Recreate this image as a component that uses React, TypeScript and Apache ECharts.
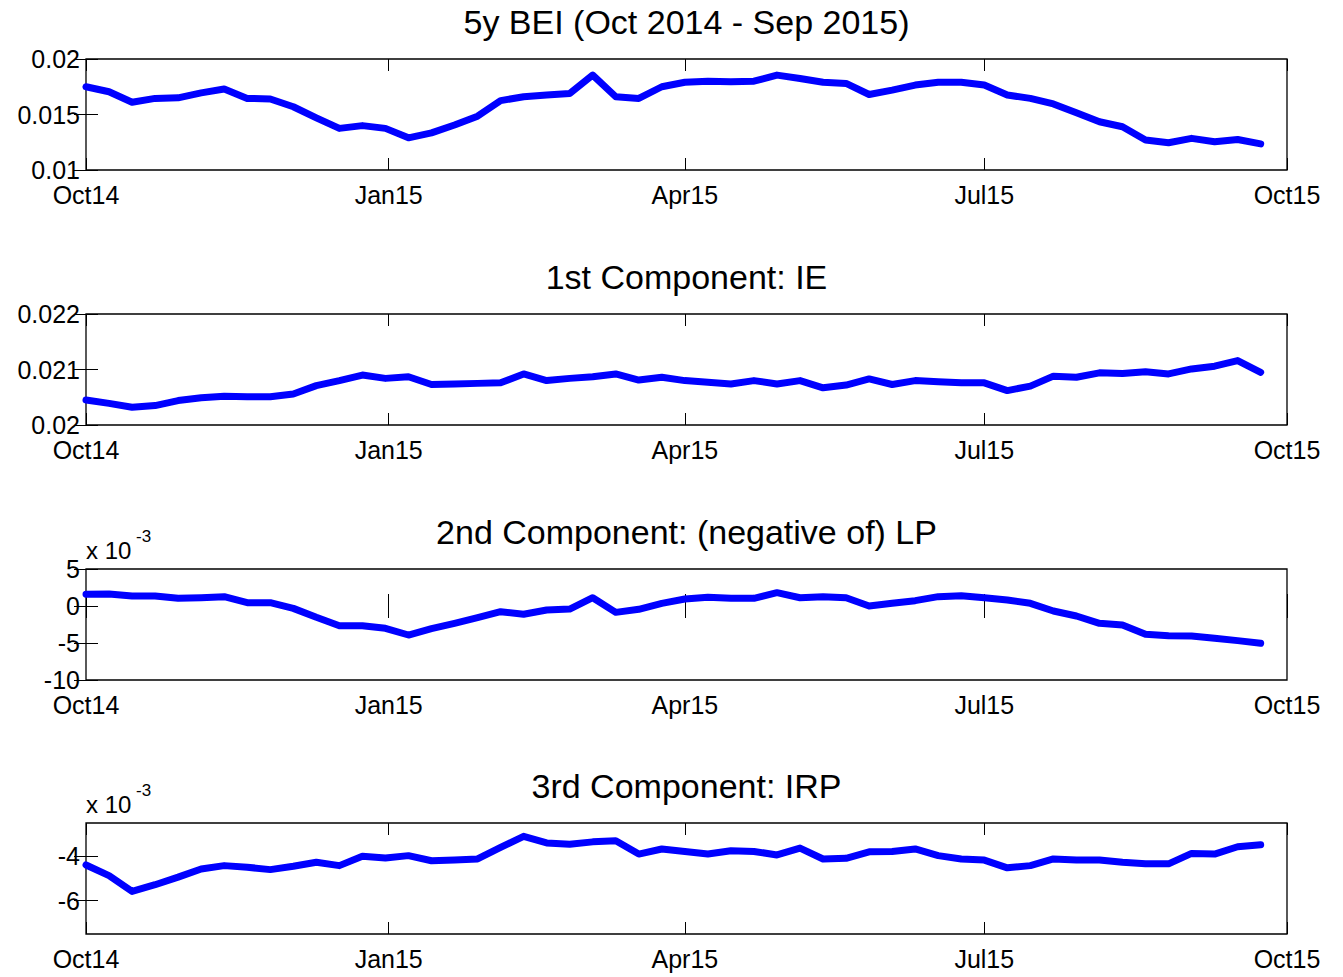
import React, { useEffect, useRef } from "react";
import * as echarts from "echarts";

// Days since 1 Oct 2014 for the weekly observations
const weekDays: number[] = Array.from({ length: 52 }, (_, i) => i * 7);

const tickDays = [0, 92, 182, 273, 365];
const tickLabels = ["Oct14", "Jan15", "Apr15", "Jul15", "Oct15"];

const bei = [
  0.0175, 0.01705, 0.0161, 0.01645, 0.0165, 0.01695, 0.0173, 0.01645, 0.0164, 0.0157,
  0.0147, 0.01375, 0.014, 0.01375, 0.0129, 0.01335, 0.01405, 0.01485, 0.01625, 0.0166,
  0.01675, 0.0169, 0.01855, 0.0166, 0.01645, 0.0175, 0.0179, 0.018, 0.01795, 0.018,
  0.01855, 0.01825, 0.0179, 0.0178, 0.0168, 0.0172, 0.01765, 0.0179, 0.0179, 0.01765,
  0.01675, 0.01645, 0.01595, 0.01515, 0.01435, 0.0139, 0.0127, 0.01245, 0.01285, 0.01255,
  0.01275, 0.01235,
];

const ie = [
  0.02045, 0.02039, 0.02032, 0.02035, 0.02044, 0.02049, 0.02052, 0.02051, 0.02051, 0.02056,
  0.02071, 0.0208, 0.0209, 0.02084, 0.02087, 0.02073, 0.02074, 0.02075, 0.02076, 0.02092,
  0.0208, 0.02084, 0.02087, 0.02092, 0.02081, 0.02086, 0.0208, 0.02077, 0.02074, 0.0208,
  0.02074, 0.0208, 0.02067, 0.02072, 0.02083, 0.02073, 0.0208, 0.02078, 0.02076, 0.02076,
  0.02062, 0.0207, 0.02088, 0.02086, 0.02094, 0.02093, 0.02096, 0.02092, 0.02101, 0.02106,
  0.02116, 0.02095,
];

// x 10^-3
const lp = [
  1.58, 1.62, 1.35, 1.35, 1.04, 1.12, 1.26, 0.45, 0.45, -0.32,
  -1.53, -2.66, -2.66, -3.01, -3.92, -3.05, -2.34, -1.58, -0.77, -1.12,
  -0.54, -0.41, 1.12, -0.86, -0.45, 0.36, 0.95, 1.17, 1.04, 1.04,
  1.8, 1.12, 1.26, 1.12, 0.0, 0.36, 0.72, 1.26, 1.4, 1.12,
  0.81, 0.36, -0.68, -1.35, -2.34, -2.57, -3.83, -4.01, -4.05, -4.37,
  -4.68, -5.04,
];

// x 10^-3
const irp = [
  -4.39, -4.87, -5.58, -5.28, -4.94, -4.57, -4.42, -4.49, -4.6, -4.45,
  -4.27, -4.42, -4.0, -4.08, -3.97, -4.2, -4.17, -4.12, -3.6, -3.1,
  -3.4, -3.46, -3.35, -3.3, -3.9, -3.67, -3.78, -3.9, -3.75, -3.78,
  -3.94, -3.63, -4.12, -4.09, -3.8, -3.78, -3.67, -3.97, -4.12, -4.17,
  -4.52, -4.42, -4.12, -4.17, -4.17, -4.27, -4.34, -4.34, -3.87, -3.9,
  -3.57, -3.48,
];

const titles = [
  "5y BEI (Oct 2014 - Sep 2015)",
  "1st Component: IE",
  "2nd Component: (negative of) LP",
  "3rd Component: IRP",
];
const seriesData = [bei, ie, lp, irp];
const yMins = [0.01, 0.02, -10, -7.5];
const yMaxs = [0.02, 0.022, 5, -2.5];
const yTicks = [
  [0.01, 0.015, 0.02],
  [0.02, 0.021, 0.022],
  [-10, -5, 0, 5],
  [-6, -4],
];
const yTickLabels = [
  ["0.01", "0.015", "0.02"],
  ["0.02", "0.021", "0.022"],
  ["-10", "-5", "0", "5"],
  ["-6", "-4"],
];
const hasExponent = [false, false, true, true];

const FONT = "'Liberation Sans', Arial, Helvetica, sans-serif";
const gridTops = [59, 314, 569, 823];
const GRID_LEFT = 86;
const GRID_W = 1201;
const GRID_H = 111;

export default function App() {
  const ref = useRef<HTMLDivElement>(null);

  useEffect(() => {
    if (!ref.current) return;
    const chart = echarts.init(ref.current, undefined, { renderer: "svg" });

    const grids: any[] = [];
    const xAxes: any[] = [];
    const yAxes: any[] = [];
    const series: any[] = [];
    const graphics: any[] = [];

    seriesData.forEach((data, i) => {
      grids.push({
        left: GRID_LEFT,
        width: GRID_W,
        top: gridTops[i],
        height: GRID_H,
        show: true,
        borderColor: "#000",
        borderWidth: 1.3,
        backgroundColor: "#fff",
      });
      const tickStyle = { color: "#000", width: 1 };
      xAxes.push({
        gridIndex: i,
        type: "value",
        min: 0,
        max: 365,
        position: "bottom",
        axisLine: { show: false },
        splitLine: { show: false },
        axisTick: { show: true, inside: true, length: 12, customValues: tickDays, lineStyle: tickStyle },
        axisLabel: {
          show: true,
          customValues: tickDays,
          formatter: (v: number) => {
            const k = tickDays.indexOf(Math.round(v));
            return k >= 0 ? tickLabels[k] : "";
          },
          color: "#000",
          fontSize: 25,
          fontFamily: FONT,
          margin: 12,
        },
      });
      xAxes.push({
        gridIndex: i,
        type: "value",
        min: 0,
        max: 365,
        position: "top",
        axisLine: { show: false },
        splitLine: { show: false },
        axisTick: { show: true, inside: true, length: 12, customValues: tickDays, lineStyle: tickStyle },
        axisLabel: { show: false },
      });
      const yFmt = (v: number) => {
        const ticks = yTicks[i];
        for (let k = 0; k < ticks.length; k++) {
          if (Math.abs(ticks[k] - v) < 1e-9) return yTickLabels[i][k];
        }
        return "";
      };
      yAxes.push({
        gridIndex: i,
        type: "value",
        min: yMins[i],
        max: yMaxs[i],
        position: "left",
        axisLine: { show: false },
        splitLine: { show: false },
        axisTick: { show: true, inside: true, length: 12, customValues: yTicks[i], lineStyle: tickStyle },
        axisLabel: {
          show: true,
          customValues: yTicks[i],
          formatter: yFmt,
          color: "#000",
          fontSize: 25,
          fontFamily: FONT,
          margin: 6,
        },
      });
      yAxes.push({
        gridIndex: i,
        type: "value",
        min: yMins[i],
        max: yMaxs[i],
        position: "right",
        axisLine: { show: false },
        splitLine: { show: false },
        axisTick: { show: true, inside: true, length: 12, customValues: yTicks[i], lineStyle: tickStyle },
        axisLabel: { show: false },
      });
      series.push({
        type: "line",
        xAxisIndex: 2 * i,
        yAxisIndex: 2 * i,
        data: data.map((v, k) => [weekDays[k], v]),
        showSymbol: false,
        symbol: "none",
        clip: false,
        lineStyle: { color: "#0000ff", width: 7, cap: "round", join: "round" },
        z: 5,
      });
      graphics.push({
        type: "text",
        x: GRID_LEFT + GRID_W / 2,
        y: gridTops[i] - 37,
        style: {
          text: titles[i],
          fontSize: 34,
          fontFamily: FONT,
          fill: "#000",
          align: "center",
          verticalAlign: "middle",
        },
      });
      if (hasExponent[i]) {
        graphics.push({
          type: "text",
          x: 86,
          y: gridTops[i] - 19,
          style: {
            text: "x 10",
            fontSize: 24,
            fontFamily: FONT,
            fill: "#000",
            align: "left",
            verticalAlign: "middle",
          },
        });
        graphics.push({
          type: "text",
          x: 136,
          y: gridTops[i] - 33,
          style: {
            text: "-3",
            fontSize: 17,
            fontFamily: FONT,
            fill: "#000",
            align: "left",
            verticalAlign: "middle",
          },
        });
      }
    });

    chart.setOption({
      animation: false,
      backgroundColor: "#fff",
      grid: grids,
      xAxis: xAxes,
      yAxis: yAxes,
      series,
      graphic: graphics,
    });

    return () => {
      chart.dispose();
    };
  }, []);

  return (
    <div
      ref={ref}
      style={{ position: "fixed", left: 0, top: 0, width: 1343, height: 977, background: "#fff" }}
    />
  );
}
